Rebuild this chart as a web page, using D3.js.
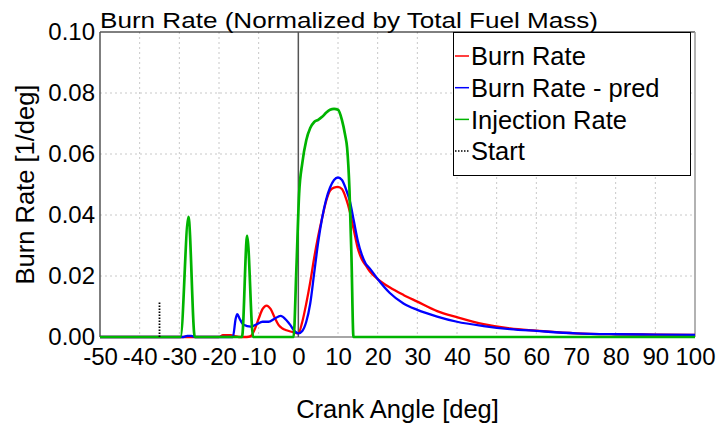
<!DOCTYPE html>
<html><head><meta charset="utf-8">
<script src="https://cdn.jsdelivr.net/npm/d3@7"></script>
<style>
body{margin:0;background:#fff;}
text{font-family:"Liberation Sans",Arial,sans-serif;fill:#000;}
</style></head>
<body><svg id="chart" width="721" height="430"></svg>
<script>
// ---- data ----
const burnAngle = [-50,-20,-19,-17,-16,-15,-13,-12,-11,-10,-9,-8,-7,-6,-5,-4,-3,-2,-1,0,1,2,3,4,5,6,7,8,9,10,11,12,13,14,15,16,17,18,20,23,26.5,30,35,40,46.7,53.4,60,70,80,90,100];
const burnRate  = [0,0,0.0006,0.0006,0.0003,0,0,0.0003,0.0025,0.006,0.0092,0.0103,0.0092,0.0065,0.004,0.0028,0.0022,0.0018,0.0015,0.0012,0.005,0.011,0.018,0.026,0.033,0.039,0.0445,0.048,0.049,0.0492,0.0485,0.0455,0.041,0.035,0.029,0.0255,0.0235,0.0215,0.019,0.0163,0.0138,0.0116,0.0085,0.0065,0.0042,0.0028,0.0021,0.0012,0.0009,0.0008,0.0007];

const predAngle = [-50,-29,-28,-27,-26,-16.5,-15.8,-15.4,-14.8,-13.8,-12,-10.5,-9,-7.5,-6,-4.5,-3,-2,-1,0,1,2,3,4,5,6,7,8,9,10,11,12,13,14,15,16,17,18,20,23,26.5,30,35,40,46.7,53.4,60,70,80,90,100];
const predRate  = [0,0,0.0004,0.0004,0,0,0.006,0.0075,0.006,0.004,0.0034,0.0042,0.005,0.005,0.006,0.0069,0.0055,0.0039,0.002,0.0012,0.002,0.005,0.011,0.021,0.031,0.039,0.045,0.049,0.0515,0.0523,0.0515,0.0485,0.0445,0.038,0.0315,0.027,0.024,0.0225,0.019,0.0145,0.011,0.0089,0.0067,0.005,0.0036,0.0026,0.002,0.0012,0.0009,0.0008,0.0007];

const injAngle = [-50,-29.7,-27.7,-26.1,-14.2,-12.9,-11.4,-1.2,-0.5,0.2,1,2,3,4,5,6,7,8,9,10,11,11.8,12.3,12.9,13.4,13.9,100];
const injRate  = [0,0,0.0394,0,0,0.0332,0,0,0.022,0.047,0.057,0.0645,0.0685,0.0705,0.0712,0.0722,0.0735,0.0745,0.0748,0.0745,0.0711,0.0662,0.0620,0.048,0.026,0,0];

const startAngle = [-35,-35];
const startRate  = [0,0.0115];

const xTicks = [-50,-40,-30,-20,-10,0,10,20,30,40,50,60,70,80,90,100];
const yTicks = [0,0.02,0.04,0.06,0.08,0.10];

const seriesNames  = ["Burn Rate","Burn Rate - pred","Injection Rate","Start"];
const seriesColors = ["#ff0000","#0000ff","#00b400","#000000"];

// ---- layout ----
const L=100,R=695,T=32,B=337;
const svg=d3.select("#chart");
const x=d3.scaleLinear().domain([-50,100]).range([L,R]);
const y=d3.scaleLinear().domain([0,0.10]).range([B,T]);

// grid
const g=svg.append("g");
g.selectAll(".gx").data(xTicks.filter(v=>v>-50&&v<100&&v!==0)).enter().append("line")
 .attr("x1",d=>x(d)).attr("x2",d=>x(d)).attr("y1",T).attr("y2",B)
 .attr("stroke","#c8c8c8").attr("stroke-width",1).attr("stroke-dasharray","2,3");
g.selectAll(".gy").data(yTicks.filter(v=>v>0&&v<0.1)).enter().append("line")
 .attr("x1",L).attr("x2",R).attr("y1",d=>y(d)).attr("y2",d=>y(d))
 .attr("stroke","#c8c8c8").attr("stroke-width",1).attr("stroke-dasharray","2,3");

// frame
svg.append("line").attr("x1",L).attr("x2",R).attr("y1",T).attr("y2",T).attr("stroke","#000").attr("stroke-width",1);
svg.append("line").attr("x1",R).attr("x2",R).attr("y1",T).attr("y2",B).attr("stroke","#999").attr("stroke-width",1.5);
svg.append("line").attr("x1",L).attr("x2",R).attr("y1",B).attr("y2",B).attr("stroke","#888").attr("stroke-width",1.5);
svg.append("line").attr("x1",L).attr("x2",L).attr("y1",T).attr("y2",B).attr("stroke","#555").attr("stroke-width",1.5);
svg.append("line").attr("x1",x(0)).attr("x2",x(0)).attr("y1",T).attr("y2",B).attr("stroke","#555").attr("stroke-width",1.5);

// axes
const xa=svg.append("g").attr("transform",`translate(0,${B})`)
 .call(d3.axisBottom(x).tickValues(xTicks).tickSize(0).tickPadding(11).tickFormat(d=>String(d)));
xa.select(".domain").remove();
xa.selectAll("text").style("font-size","24px").attr("font-family","Liberation Sans, Arial, sans-serif").attr("fill","#000");
const ya=svg.append("g").attr("transform",`translate(${L},0)`)
 .call(d3.axisLeft(y).tickValues(yTicks).tickSize(0).tickPadding(5).tickFormat(d=>d.toFixed(2)));
ya.select(".domain").remove();
ya.selectAll("text").style("font-size","24px").attr("font-family","Liberation Sans, Arial, sans-serif").attr("fill","#000").attr("dy","0.33em");

// lines
const line=d3.line().x(d=>x(d[0])).y(d=>y(d[1])).curve(d3.curveMonotoneX);
const zip=(a,b)=>a.map((v,i)=>[v,b[i]]);
svg.append("path").attr("d",line(zip(burnAngle,burnRate))).attr("fill","none").attr("stroke",seriesColors[0]).attr("stroke-width",2.3);
svg.append("path").attr("d",line(zip(predAngle,predRate))).attr("fill","none").attr("stroke",seriesColors[1]).attr("stroke-width",2.3);
svg.append("path").attr("d",line(zip(injAngle,injRate))).attr("fill","none").attr("stroke",seriesColors[2]).attr("stroke-width",2.7);
svg.append("path").attr("d",d3.line().x(d=>x(d[0])).y(d=>y(d[1]))(zip(startAngle,startRate))).attr("fill","none").attr("stroke",seriesColors[3]).attr("stroke-width",1.8).attr("stroke-dasharray","1.5,1.5");

// legend
const lg=svg.append("g");
lg.append("rect").attr("x",453.5).attr("y",32.5).attr("width",237).attr("height",143).attr("fill","#fff").attr("stroke","#000").attr("stroke-width",1);
seriesNames.forEach((n,i)=>{
  const cy=56+i*31.7;
  lg.append("line").attr("x1",455).attr("x2",469).attr("y1",cy).attr("y2",cy)
    .attr("stroke",seriesColors[i]).attr("stroke-width",1.5).attr("stroke-dasharray",i===3?"1.5,1.5":null);
  lg.append("text").attr("x",471).attr("y",cy).attr("dy","0.36em").style("font-size","25.5px").text(n);
});

// titles
svg.append("text").attr("x",100).attr("y",28).style("font-size","22px")
 .attr("textLength",498).attr("lengthAdjust","spacingAndGlyphs")
 .text("Burn Rate (Normalized by Total Fuel Mass)");
svg.append("text").attr("x",(L+R)/2).attr("y",418).attr("text-anchor","middle").style("font-size","25.5px").text("Crank Angle [deg]");
svg.append("text").attr("transform",`translate(34,${(T+B)/2}) rotate(-90)`).attr("text-anchor","middle").style("font-size","25.5px").text("Burn Rate [1/deg]");
</script></body></html>
